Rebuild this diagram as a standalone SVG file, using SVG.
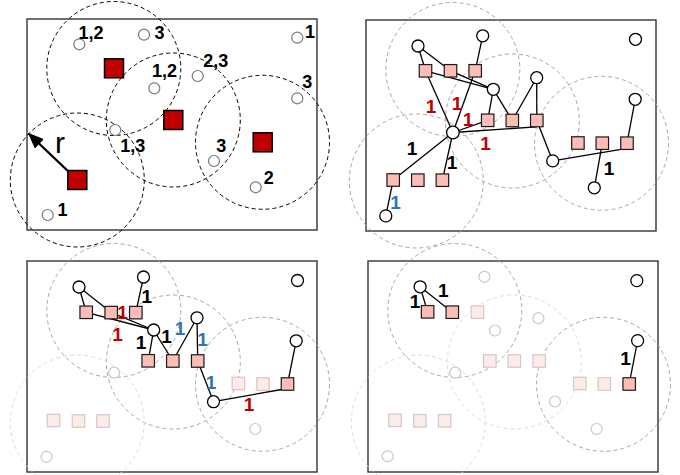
<svg xmlns="http://www.w3.org/2000/svg" width="680" height="475" viewBox="0 0 680 475">
<defs>
<style>
.frame{fill:none;stroke:#333;stroke-width:1.4}
.rng{fill:none;stroke:#000;stroke-width:1;stroke-dasharray:4 3}
.rg{fill:none;stroke:#a8a8a8;stroke-width:1;stroke-dasharray:4 3}
.rl{fill:none;stroke:#dedede;stroke-width:1;stroke-dasharray:4 3}
.tx{fill:#c00000;stroke:#000;stroke-width:1.5}
.sq{fill:#fbbdb6;stroke:#1a1a1a;stroke-width:1.2}
.sqf{fill:#fcebe9;stroke:#d8c6c4;stroke-width:1.2}
.rx{fill:#fff;stroke:#777;stroke-width:1.2}
.rxb{fill:#fff;stroke:#000;stroke-width:1.3}
.rxf{fill:#fff;stroke:#c8c8c8;stroke-width:1.2}
.ln{stroke:#000;stroke-width:1.3;fill:none}
.lb{font-family:"Liberation Sans",Arial,sans-serif;font-weight:bold;text-anchor:middle}
.s1{font-size:18px}
.s2{font-size:19px}
.k{fill:#000}.rd{fill:#c00000}.bl{fill:#2e75b6}
</style>
<marker id="ah" viewBox="0 0 16 13" refX="15" refY="6.5" markerWidth="16" markerHeight="13" markerUnits="userSpaceOnUse" orient="auto">
<path d="M0,0 L16,6.5 L0,13 z" fill="#000"/>
</marker>
</defs>
<rect width="680" height="475" fill="#fff"/>

<!-- Panel 1 -->
<g id="panel1">
<rect class="frame" x="27" y="19" width="290" height="211"/>
<g id="p1-ranges">
<circle class="rng" cx="113.8" cy="68.5" r="67"/>
<circle class="rng" cx="173.3" cy="120" r="67"/>
<circle class="rng" cx="262.5" cy="142.3" r="67"/>
<circle class="rng" cx="77.3" cy="180" r="67"/>
</g>
<g id="p1-connectors">
<line x1="70" y1="173" x2="28.5" y2="133.5" stroke="#000" stroke-width="2.4" marker-end="url(#ah)"/>
</g>
<g id="p1-tx1"><rect class="tx" x="104.5" y="58.8" width="19" height="19"/></g>
<g id="p1-tx2"><rect class="tx" x="163.8" y="110.5" width="19" height="19"/></g>
<g id="p1-tx3"><rect class="tx" x="253.2" y="132.8" width="19" height="19"/></g>
<g id="p1-tx4"><rect class="tx" x="67.8" y="170.5" width="19" height="19"/></g>
<g id="p1-rx1"><circle class="rx" cx="79.3" cy="44.3" r="5.5"/><text class="lb s1 k" x="91" y="38.5">1,2</text></g>
<g id="p1-rx2"><circle class="rx" cx="144" cy="34.7" r="5.5"/><text class="lb s1 k" x="159.5" y="38.5">3</text></g>
<g id="p1-rx3"><circle class="rx" cx="297.3" cy="37.7" r="5.5"/><text class="lb s1 k" x="310" y="37.5">1</text></g>
<g id="p1-rx4"><circle class="rx" cx="154.3" cy="88.3" r="5.5"/><text class="lb s1 k" x="164.5" y="77">1,2</text></g>
<g id="p1-rx5"><circle class="rx" cx="197.7" cy="76" r="5.5"/><text class="lb s1 k" x="215.8" y="67">2,3</text></g>
<g id="p1-rx6"><circle class="rx" cx="297.3" cy="98.3" r="5.5"/><text class="lb s1 k" x="307.2" y="87.5">3</text></g>
<g id="p1-rx7"><circle class="rx" cx="115.3" cy="130" r="5.5"/><text class="lb s1 k" x="132.8" y="152">1,3</text></g>
<g id="p1-rx8"><circle class="rx" cx="214" cy="161" r="5.5"/><text class="lb s1 k" x="221.2" y="152">3</text></g>
<g id="p1-rx9"><circle class="rx" cx="255.7" cy="187.3" r="5.5"/><text class="lb s1 k" x="268.8" y="183.5">2</text></g>
<g id="p1-rx10"><circle class="rx" cx="47.7" cy="215" r="5.5"/><text class="lb s1 k" x="62.5" y="216.3">1</text></g>
<text x="55" y="153" font-family="Liberation Sans,Arial,sans-serif" font-size="30" fill="#000">r</text>
</g>

<!-- Panel 2 -->
<g id="panel2">
<rect class="frame" x="366" y="20" width="290" height="211"/>
<g id="p2-ranges">
<circle class="rg" cx="452.8" cy="69.5" r="67"/>
<circle class="rg" cx="512.3" cy="121" r="67"/>
<circle class="rg" cx="601.5" cy="143.3" r="67"/>
<circle class="rg" cx="416.3" cy="181" r="67"/>
</g>
<g id="p2-connectors" class="ln">
<line x1="418" y1="46" x2="425.5" y2="70.8"/>
<line x1="418" y1="46" x2="450.5" y2="70.8"/>
<line x1="482.7" y1="35.8" x2="475.2" y2="70.8"/>
<line x1="425.5" y1="70.8" x2="493.3" y2="89.3"/>
<line x1="450.5" y1="70.8" x2="493.3" y2="89.3"/>
<line x1="425.5" y1="70.8" x2="452.9" y2="132.5"/>
<line x1="475.2" y1="70.8" x2="452.9" y2="132.5"/>
<line x1="452.9" y1="132.5" x2="487.7" y2="120.3"/>
<line x1="452.9" y1="132.5" x2="536.5" y2="126.8"/>
<line x1="493.3" y1="89.3" x2="487.7" y2="120.3"/>
<line x1="493.3" y1="89.3" x2="512.3" y2="120.5"/>
<line x1="536.7" y1="77.7" x2="512.3" y2="120.5"/>
<line x1="536.7" y1="77.7" x2="536.8" y2="120.5"/>
<line x1="536.8" y1="120.5" x2="552.7" y2="160.9"/>
<line x1="552.7" y1="160.9" x2="621" y2="149.3"/>
<line x1="635.2" y1="99.3" x2="627" y2="143.2"/>
<line x1="602.3" y1="143.2" x2="594.3" y2="187.8"/>
<line x1="452.9" y1="132.5" x2="393.2" y2="180"/>
<line x1="452.9" y1="132.5" x2="442.4" y2="180.2"/>
<line x1="393.2" y1="180" x2="385.8" y2="215.9"/>
</g>
<g id="p2-sq-r1a"><rect class="sq" x="419.25" y="64.55" width="12.5" height="12.5"/></g>
<g id="p2-sq-r1b"><rect class="sq" x="444.25" y="64.55" width="12.5" height="12.5"/></g>
<g id="p2-sq-r1c"><rect class="sq" x="468.95" y="64.55" width="12.5" height="12.5"/></g>
<g id="p2-sq-r2a"><rect class="sq" x="481.45" y="114.05" width="12.5" height="12.5"/></g>
<g id="p2-sq-r2b"><rect class="sq" x="506.05" y="114.25" width="12.5" height="12.5"/></g>
<g id="p2-sq-r2c"><rect class="sq" x="530.55" y="114.25" width="12.5" height="12.5"/></g>
<g id="p2-sq-r3a"><rect class="sq" x="571.65" y="136.75" width="12.5" height="12.5"/></g>
<g id="p2-sq-r3b"><rect class="sq" x="596.05" y="136.95" width="12.5" height="12.5"/></g>
<g id="p2-sq-r3c"><rect class="sq" x="620.75" y="136.95" width="12.5" height="12.5"/></g>
<g id="p2-sq-r4a"><rect class="sq" x="386.95" y="173.75" width="12.5" height="12.5"/></g>
<g id="p2-sq-r4b"><rect class="sq" x="411.55" y="173.95" width="12.5" height="12.5"/></g>
<g id="p2-sq-r4c"><rect class="sq" x="436.15" y="173.95" width="12.5" height="12.5"/></g>
<g id="p2-c1"><circle class="rxb" cx="418" cy="46" r="6"/></g>
<g id="p2-c2"><circle class="rxb" cx="482.7" cy="35.8" r="6"/></g>
<g id="p2-c3"><circle class="rxb" cx="635.5" cy="39.3" r="6"/></g>
<g id="p2-c4"><circle class="rxb" cx="493.3" cy="89.3" r="6"/></g>
<g id="p2-c5"><circle class="rxb" cx="536.7" cy="77.7" r="6"/></g>
<g id="p2-c6"><circle class="rxb" cx="635.2" cy="99.3" r="6"/></g>
<g id="p2-c7"><circle class="rxb" cx="452.9" cy="132.5" r="6.3"/></g>
<g id="p2-c8"><circle class="rxb" cx="552.7" cy="160.9" r="6"/></g>
<g id="p2-c9"><circle class="rxb" cx="594.3" cy="187.8" r="6"/></g>
<g id="p2-c10"><circle class="rxb" cx="385.8" cy="215.9" r="6"/></g>
<g id="p2-labels">
<text class="lb s2 rd" x="431" y="113">1</text>
<text class="lb s2 rd" x="457" y="110.3">1</text>
<text class="lb s2 rd" x="468" y="126.3">1</text>
<text class="lb s2 rd" x="485.5" y="149.6">1</text>
<text class="lb s2 k" x="412" y="155.3">1</text>
<text class="lb s2 k" x="452" y="168.6">1</text>
<text class="lb s2 k" x="609" y="175.3">1</text>
<text class="lb s2 bl" x="395.5" y="208.6">1</text>
</g>
</g>

<!-- Panel 3 -->
<g id="panel3">
<rect class="frame" x="27" y="261" width="290" height="211"/>
<g id="p3-ranges">
<circle class="rg" cx="113.8" cy="310.5" r="67"/>
<circle class="rg" cx="173.3" cy="362" r="67"/>
<circle class="rg" cx="262.5" cy="384.3" r="67"/>
<circle class="rl" cx="77.3" cy="422" r="67"/>
</g>
<g id="p3-faded">
<rect class="sqf" x="232.15" y="377.25" width="12.5" height="12.5"/>
<rect class="sqf" x="256.75" y="377.75" width="12.5" height="12.5"/>
<rect class="sqf" x="47.25" y="414.25" width="12.5" height="12.5"/>
<rect class="sqf" x="72.25" y="414.75" width="12.5" height="12.5"/>
<rect class="sqf" x="96.75" y="414.75" width="12.5" height="12.5"/>
<circle class="rxf" cx="114.2" cy="372.7" r="5.5"/>
<circle class="rxf" cx="255.2" cy="429" r="5.5"/>
<circle class="rxf" cx="46.5" cy="456.8" r="5.5"/>
</g>
<g id="p3-connectors" class="ln">
<line x1="79" y1="287" x2="86.2" y2="312.3"/>
<line x1="79" y1="287" x2="111.2" y2="312.6"/>
<line x1="143.5" y1="277" x2="135.8" y2="312.6"/>
<line x1="86.2" y1="312.3" x2="153.7" y2="330"/>
<line x1="111.2" y1="312.6" x2="153.7" y2="330"/>
<line x1="153.7" y1="330" x2="148.2" y2="360.8"/>
<line x1="153.7" y1="330" x2="172.8" y2="361"/>
<line x1="197" y1="317.8" x2="172.8" y2="361"/>
<line x1="197" y1="317.8" x2="197.7" y2="361"/>
<line x1="197.7" y1="361" x2="213.5" y2="401.7"/>
<line x1="213.5" y1="401.7" x2="281.5" y2="389.5"/>
<line x1="296.2" y1="340.8" x2="287.5" y2="384"/>
</g>
<g id="p3-sq-r1a"><rect class="sq" x="79.95" y="306.05" width="12.5" height="12.5"/></g>
<g id="p3-sq-r1b"><rect class="sq" x="104.95" y="306.35" width="12.5" height="12.5"/></g>
<g id="p3-sq-r1c"><rect class="sq" x="129.55" y="306.35" width="12.5" height="12.5"/></g>
<g id="p3-sq-r2a"><rect class="sq" x="141.95" y="354.55" width="12.5" height="12.5"/></g>
<g id="p3-sq-r2b"><rect class="sq" x="166.55" y="354.75" width="12.5" height="12.5"/></g>
<g id="p3-sq-r2c"><rect class="sq" x="191.45" y="354.75" width="12.5" height="12.5"/></g>
<g id="p3-sq-r3c"><rect class="sq" x="281.25" y="377.75" width="12.5" height="12.5"/></g>
<g id="p3-c1"><circle class="rxb" cx="79" cy="287" r="6"/></g>
<g id="p3-c2"><circle class="rxb" cx="143.5" cy="277" r="6"/></g>
<g id="p3-c3"><circle class="rxb" cx="297.5" cy="280.5" r="6"/></g>
<g id="p3-c4"><circle class="rxb" cx="153.7" cy="330" r="6"/></g>
<g id="p3-c5"><circle class="rxb" cx="197" cy="317.8" r="6"/></g>
<g id="p3-c6"><circle class="rxb" cx="296.2" cy="340.8" r="6"/></g>
<g id="p3-c8"><circle class="rxb" cx="213.5" cy="401.7" r="6"/></g>
<g id="p3-labels">
<text class="lb s2 k" x="146.7" y="302.6">1</text>
<text class="lb s2 rd" x="122.5" y="319.3">1</text>
<text class="lb s2 rd" x="117.5" y="341.3">1</text>
<text class="lb s2 k" x="141" y="348.6">1</text>
<text class="lb s2 k" x="166.5" y="342.6">1</text>
<text class="lb s2 bl" x="180" y="334.6">1</text>
<text class="lb s2 bl" x="202.5" y="346">1</text>
<text class="lb s2 bl" x="211" y="388.6">1</text>
<text class="lb s2 rd" x="249" y="411.3">1</text>
</g>
</g>

<!-- Panel 4 -->
<g id="panel4">
<rect class="frame" x="368" y="261" width="290" height="211"/>
<g id="p4-ranges">
<circle class="rg" cx="454.8" cy="310.5" r="67"/>
<circle class="rl" cx="514.3" cy="362" r="67"/>
<circle class="rg" cx="603.5" cy="384.3" r="67"/>
<circle class="rl" cx="418.3" cy="422" r="67"/>
</g>
<g id="p4-faded">
<rect class="sqf" x="471.15" y="305.95" width="12.5" height="12.5"/>
<rect class="sqf" x="483.55" y="354.75" width="12.5" height="12.5"/>
<rect class="sqf" x="508.05" y="354.75" width="12.5" height="12.5"/>
<rect class="sqf" x="532.95" y="354.75" width="12.5" height="12.5"/>
<rect class="sqf" x="573.55" y="377.25" width="12.5" height="12.5"/>
<rect class="sqf" x="598.05" y="377.75" width="12.5" height="12.5"/>
<rect class="sqf" x="388.75" y="414.05" width="12.5" height="12.5"/>
<rect class="sqf" x="413.65" y="414.55" width="12.5" height="12.5"/>
<rect class="sqf" x="438.35" y="414.55" width="12.5" height="12.5"/>
<circle class="rxf" cx="484.4" cy="276.8" r="5.5"/>
<circle class="rxf" cx="495" cy="330.5" r="5.5"/>
<circle class="rxf" cx="538.4" cy="318.2" r="5.5"/>
<circle class="rxf" cx="455.2" cy="372.7" r="5.5"/>
<circle class="rxf" cx="555" cy="401.5" r="5.5"/>
<circle class="rxf" cx="596.6" cy="429" r="5.5"/>
<circle class="rxf" cx="387.7" cy="456.3" r="5.5"/>
</g>
<g id="p4-connectors" class="ln">
<line x1="420.1" y1="286.8" x2="427.6" y2="311.8"/>
<line x1="420.1" y1="286.8" x2="452.3" y2="312.2"/>
<line x1="637.6" y1="340.6" x2="629.2" y2="384"/>
</g>
<g id="p4-sq-r1a"><rect class="sq" x="421.35" y="305.55" width="12.5" height="12.5"/></g>
<g id="p4-sq-r1b"><rect class="sq" x="446.05" y="305.95" width="12.5" height="12.5"/></g>
<g id="p4-sq-r3c"><rect class="sq" x="622.95" y="377.75" width="12.5" height="12.5"/></g>
<g id="p4-c1"><circle class="rxb" cx="420.1" cy="286.8" r="6"/></g>
<g id="p4-c3"><circle class="rxb" cx="636.8" cy="280.6" r="6"/></g>
<g id="p4-c6"><circle class="rxb" cx="637.6" cy="340.6" r="6"/></g>
<g id="p4-labels">
<text class="lb s2 k" x="415" y="308">1</text>
<text class="lb s2 k" x="443.3" y="297.3">1</text>
<text class="lb s2 k" x="625.5" y="364.6">1</text>
</g>
</g>
</svg>
